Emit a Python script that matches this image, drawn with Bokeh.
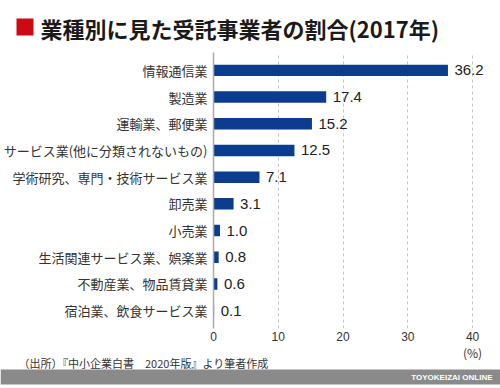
from bokeh.plotting import figure
from bokeh.models import ColumnDataSource, FactorRange, Range1d, FixedTicker
from bokeh.embed import file_html
from bokeh.resources import INLINE
from bokeh.core.properties import value

categories = [
    "情報通信業",
    "製造業",
    "運輸業、郵便業",
    "サービス業(他に分類されないもの)",
    "学術研究、専門・技術サービス業",
    "卸売業",
    "小売業",
    "生活関連サービス業、娯楽業",
    "不動産業、物品賃貸業",
    "宿泊業、飲食サービス業",
]
shares = [36.2, 17.4, 15.2, 12.5, 7.1, 3.1, 1.0, 0.8, 0.6, 0.1]
x_ticks = [0, 10, 20, 30, 40]
grid_ticks = [10, 20, 30, 40]
unit_at = 40
title_text = "業種別に見た受託事業者の割合(2017年)"
source_text = "（出所）『中小企業白書　2020年版』より筆者作成"
unit_text = "(%)"
credit_text = "TOYOKEIZAI ONLINE"

JP = "Noto Sans CJK JP"
NUM = "Liberation Sans"
BAR = "#0b3c8f"
RED = "#cc0a14"
FOOT = "#8a8a8a"

W = 500
LEFT = 212
RIGHT = 8
PX = 6.5                      # pixels per percentage point
x_max = (W - LEFT - RIGHT) / PX


def bare(fig):
    fig.axis.visible = False
    fig.grid.visible = False
    fig.outline_line_color = None
    fig.background_fill_color = "white"
    fig.border_fill_color = "white"
    return fig


# ---- header ----
HH = 46
head = bare(figure(width=W, height=HH, x_range=Range1d(0, W), y_range=Range1d(HH, 0),
                   output_backend="svg", toolbar_location=None, min_border=0))
head.quad(left=[16], right=[33], top=[18], bottom=[35], fill_color=RED, line_color=None)
head.text(x=[40], y=[27], text=[title_text], text_font=value(JP), text_font_size="22px",
          text_font_style="bold", text_color="#1a1a1a", text_baseline="middle",
          text_align="left")

# ---- main chart ----
src = ColumnDataSource(dict(cat=categories, share=shares,
                            label=[f"{v:.1f}" for v in shares]))

MH = 299
p = figure(width=W, height=MH,
           y_range=FactorRange(factors=list(reversed(categories)), range_padding=0.034),
           x_range=Range1d(0, x_max),
           output_backend="svg", toolbar_location=None,
           min_border_left=LEFT, min_border_right=RIGHT,
           min_border_top=6, min_border_bottom=17)
p.background_fill_color = "white"
p.border_fill_color = "white"
p.outline_line_color = None

p.hbar(y="cat", left=0, right="share", height=0.43, source=src,
       fill_color=BAR, line_color=None)
p.text(x="share", y="cat", text="label", source=src, x_offset=6.5,
       text_baseline="middle", text_align="left", text_font=value(NUM),
       text_font_size="15px", text_color="#222222")

xa = p.xaxis[0]
xa.ticker = FixedTicker(ticks=x_ticks)
xa.axis_line_color = None
xa.major_tick_line_color = None
xa.minor_tick_line_color = None
xa.major_tick_out = 0
xa.major_tick_in = 0
xa.major_label_text_font = NUM
xa.major_label_text_font_size = "12px"
xa.major_label_text_color = "#333333"
xa.major_label_standoff = 3

ya = p.yaxis[0]
ya.axis_line_color = "#aaaaaa"
ya.axis_line_width = 1.5
ya.major_tick_line_color = None
ya.minor_tick_line_color = None
ya.major_tick_out = 0
ya.major_tick_in = 0
ya.major_label_text_font = JP
ya.major_label_text_font_size = "13px"
ya.major_label_text_color = "#333333"
ya.major_label_standoff = 6

p.xgrid.ticker = FixedTicker(ticks=grid_ticks)
p.xgrid.grid_line_color = "#c4c4c4"
p.xgrid.grid_line_dash = "3 3"
p.ygrid.grid_line_color = None

# ---- bottom: unit, source, credit bar ----
BH = 388 - HH - MH
foot = bare(figure(width=W, height=BH,
                   x_range=Range1d(-LEFT / PX, (W - LEFT) / PX), y_range=Range1d(BH, 0),
                   output_backend="svg", toolbar_location=None, min_border=0))
foot.text(x=[unit_at], y=[7], text=[unit_text], text_font=value(JP), text_font_size="12px",
          text_color="#333333", text_align="center", text_baseline="middle")
foot.text(x=[-LEFT / PX], y=[17], x_offset=18, text=[source_text], text_font=value(JP),
          text_font_size="11px", text_color="#333333", text_align="left",
          text_baseline="middle")
foot.quad(left=[-LEFT / PX], right=[(W - LEFT) / PX], top=[24], bottom=[39],
          fill_color=FOOT, line_color=None)
foot.text(x=[(W - LEFT) / PX], y=[31.5], x_offset=-8, text=[credit_text], text_align="right",
          text_baseline="middle", text_font=value(NUM), text_font_size="8px",
          text_font_style="bold", text_color="white")

open("out.html", "w").write(file_html([head, p, foot], INLINE))
